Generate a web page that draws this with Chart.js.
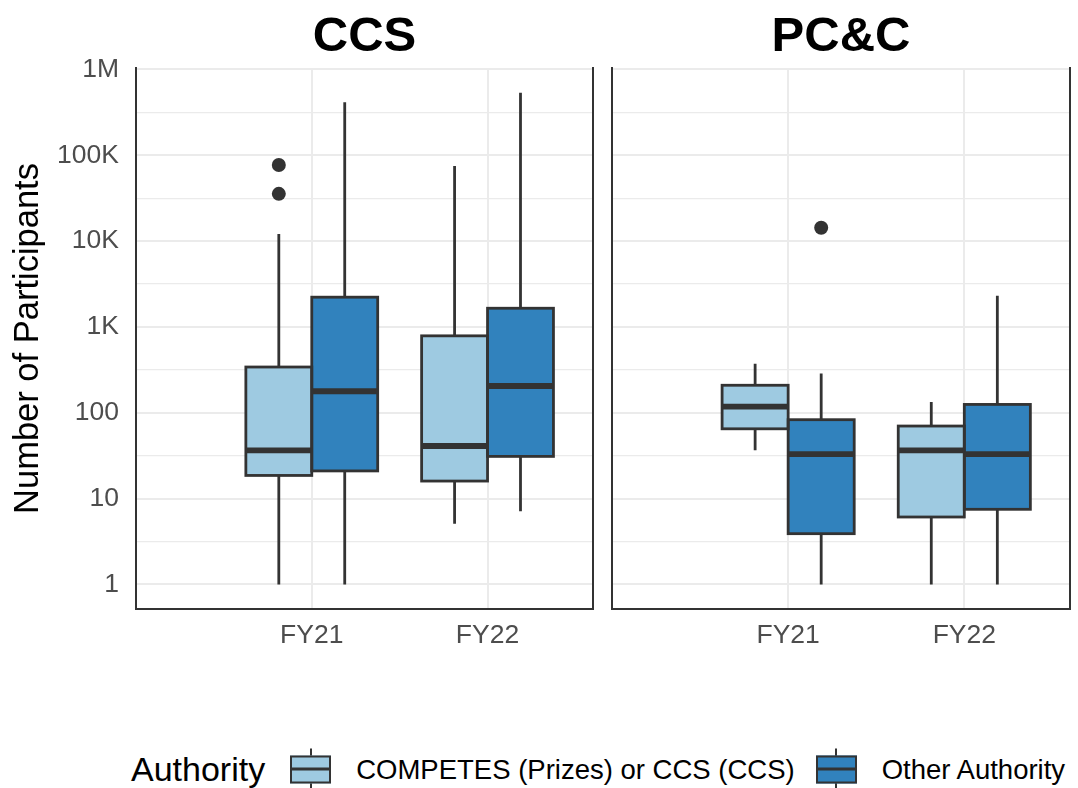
<!DOCTYPE html>
<html>
<head>
<meta charset="utf-8">
<title>Number of Participants by Authority</title>
<script src="https://cdn.jsdelivr.net/npm/chart.js@4.4.1/dist/chart.umd.min.js"></script>
<style>
  html, body { margin: 0; padding: 0; background: #ffffff; }
  body { width: 1078px; height: 788px; position: relative; overflow: hidden;
         font-family: "Liberation Sans", Arial, sans-serif; }
  #ccs { position: absolute; left: 0; top: 0; }
  #pcc { position: absolute; left: 603px; top: 0; }
  #legend { position: absolute; left: 131px; top: 769px; transform: translateY(-50%);
            display: flex; align-items: center; white-space: nowrap; }
  .lg-title { font-size: 34px; color: #000; margin-right: 25px; }
  .lg-key { position: relative; width: 37px; height: 24px; border: 2px solid #333333; }
  .lg-key::before { content: ""; position: absolute; left: 0; right: 0; top: 50%; height: 3px;
                    margin-top: -1.5px; background: #333333; }
  .lg-key::after { content: ""; position: absolute; left: 50%; margin-left: -1px; width: 2px;
                   top: -9px; bottom: -9px; z-index: -1; background: #333333; }
  .lg-label { font-size: 27.5px; color: #000; margin-left: 25px; margin-right: 21px; }
</style>
</head>
<body>
<canvas id="ccs" width="603" height="680"></canvas>
<canvas id="pcc" width="475" height="680"></canvas>
<div id="legend"><span class="lg-title">Authority</span></div>
<script>
// ---- data ---------------------------------------------------------------
const years = ['FY21', 'FY22'];
const seriesNames = ['COMPETES (Prizes) or CCS (CCS)', 'Other Authority'];
const seriesColors = ['#9ECAE1', '#3182BD'];

// per year: [lower whisker, Q1, median, Q3, upper whisker]
const ccsCompetes = [[1, 18.6, 36.5, 341, 12100], [5.1, 16, 41, 787, 75000]];
const ccsOther    = [[1, 21, 178, 2220, 414000], [7.1, 31, 205, 1650, 536000]];
const pccCompetes = [[36.5, 65, 118, 209, 372], [1, 6.1, 36.5, 70, 133]];
const pccOther    = [[1, 3.9, 33, 83, 287], [1, 7.5, 33, 125, 2300]];

// points beyond the whiskers, per year
const ccsCompetesOutliers = [[77000, 35500], []];
const ccsOtherOutliers    = [[], []];
const pccCompetesOutliers = [[], []];
const pccOtherOutliers    = [[14300], []];

const yTickValues = [1, 10, 100, 1000, 10000, 100000, 1000000];
const yTickLabels = ['1', '10', '100', '1K', '10K', '100K', '1M'];

// ---- styling ------------------------------------------------------------
const INK = '#333333';
const GRID = '#EBEBEB';
const TICK_TEXT = '#4D4D4D';
const DODGE = 0.75;                       // share of a category taken by the boxes
const Y_MIN = Math.pow(10, -0.2865);
const Y_MAX = Math.pow(10, 6.0165);

Chart.defaults.font.family = '"Liberation Sans", Arial, sans-serif';

// gridlines at every decade and half decade
const yGridValues = [];
yTickValues.forEach((v, i) => {
  yGridValues.push(v);
  if (i < yTickValues.length - 1) yGridValues.push(Math.sqrt(v * yTickValues[i + 1]));
});

// whiskers under the boxes, outlines and medians over them
const boxDecor = {
  id: 'boxDecor',
  beforeDatasetsDraw(chart) {
    const y = chart.scales.y, ctx = chart.ctx, area = chart.chartArea;
    ctx.save();
    ctx.beginPath();
    ctx.rect(area.left, area.top, area.right - area.left, area.bottom - area.top);
    ctx.clip();
    ctx.strokeStyle = INK;
    ctx.lineWidth = 2.8;
    chart.data.datasets.forEach((ds, d) => {
      if (!ds.stats) return;
      chart.getDatasetMeta(d).data.forEach((bar, i) => {
        const [lo, q1, , q3, hi] = ds.stats[i];
        ctx.beginPath();
        ctx.moveTo(bar.x, y.getPixelForValue(lo));
        ctx.lineTo(bar.x, y.getPixelForValue(q1));
        ctx.moveTo(bar.x, y.getPixelForValue(q3));
        ctx.lineTo(bar.x, y.getPixelForValue(hi));
        ctx.stroke();
      });
    });
    ctx.restore();
  },
  afterDatasetsDraw(chart) {
    const y = chart.scales.y, ctx = chart.ctx;
    ctx.save();
    ctx.strokeStyle = INK;
    chart.data.datasets.forEach((ds, d) => {
      if (!ds.stats) return;
      chart.getDatasetMeta(d).data.forEach((bar, i) => {
        const [, q1, med, q3] = ds.stats[i];
        const left = bar.x - bar.width / 2;
        const top = y.getPixelForValue(q3);
        const bottom = y.getPixelForValue(q1);
        ctx.lineWidth = 2.8;
        ctx.strokeRect(left, top, bar.width, bottom - top);
        ctx.lineWidth = 5.8;
        ctx.beginPath();
        ctx.moveTo(left, y.getPixelForValue(med));
        ctx.lineTo(left + bar.width, y.getPixelForValue(med));
        ctx.stroke();
      });
    });
    ctx.restore();
  }
};

// facet heading centred over the plotting area
const panelTitle = {
  id: 'panelTitle',
  afterDraw(chart, args, opts) {
    const { ctx, chartArea } = chart;
    ctx.save();
    ctx.font = 'bold 49px "Liberation Sans", Arial, sans-serif';
    ctx.fillStyle = '#000000';
    ctx.textAlign = 'center';
    ctx.textBaseline = 'alphabetic';
    ctx.fillText(opts.text, (chartArea.left + chartArea.right) / 2, opts.baseline);
    ctx.restore();
  }
};

function makePanel(canvasId, title, stats, outliers, withYAxis, padding) {
  const datasets = stats.map((st, s) => ({
    type: 'bar',
    label: seriesNames[s],
    backgroundColor: seriesColors[s],
    borderWidth: 0,
    categoryPercentage: DODGE,
    barPercentage: 1,
    stats: st,
    data: st.map((row, i) => ({ x: i + 1, y: [row[1], row[3]] }))
  }));
  const outlierPoints = [];
  outliers.forEach((perYear, s) => {
    perYear.forEach((vals, i) => {
      vals.forEach(v => outlierPoints.push({ x: i + 1 + (s - 0.5) * DODGE / stats.length, y: v }));
    });
  });
  datasets.push({
    type: 'scatter',
    label: 'outliers',
    data: outlierPoints,
    pointRadius: 7,
    pointBackgroundColor: INK,
    pointBorderWidth: 0
  });

  return new Chart(document.getElementById(canvasId), {
    type: 'bar',
    data: { datasets },
    plugins: [boxDecor, panelTitle],
    options: {
      responsive: false,
      animation: false,
      events: [],
      layout: { padding },
      plugins: {
        legend: { display: false },
        tooltip: { enabled: false },
        panelTitle: { text: title, baseline: 51 }
      },
      scales: {
        x: {
          type: 'linear',
          offset: false,
          min: 0,
          max: 2.6,
          afterBuildTicks: s => { s.ticks = years.map((_, i) => ({ value: i + 1 })); },
          afterFit: s => { s.height = 60; },
          ticks: {
            callback: v => years[v - 1],
            color: TICK_TEXT,
            font: { size: 26.5 },
            padding: 11,
            autoSkip: false,
            maxRotation: 0
          },
          grid: { color: GRID, lineWidth: 2, drawTicks: false, offset: false },
          border: { display: true, color: INK, width: 2 }
        },
        y: {
          type: 'logarithmic',
          min: Y_MIN,
          max: Y_MAX,
          afterBuildTicks: s => { s.ticks = yGridValues.map(v => ({ value: v })); },
          afterFit: s => { s.width = withYAxis ? 136 : 0; },
          ticks: {
            display: withYAxis,
            callback: v => { const k = yTickValues.indexOf(v); return k >= 0 ? yTickLabels[k] : ''; },
            color: TICK_TEXT,
            font: { size: 26.5 },
            padding: 17,
            autoSkip: false
          },
          grid: {
            color: GRID,
            drawTicks: false,
            lineWidth: c => (c.tick && yTickValues.indexOf(c.tick.value) < 0) ? 1.3 : 2
          },
          border: { display: true, color: INK, width: 2 },
          title: {
            display: withYAxis,
            text: 'Number of Participants',
            color: '#000000',
            font: { size: 34.5 },
            padding: { top: 8, bottom: 0 }
          }
        },
        yRight: {
          type: 'logarithmic',
          position: 'right',
          min: Y_MIN,
          max: Y_MAX,
          afterFit: s => { s.width = 0; },
          ticks: { display: false },
          grid: { display: false },
          border: { display: true, color: INK, width: 2 }
        }
      }
    }
  });
}

makePanel('ccs', 'CCS', [ccsCompetes, ccsOther], [ccsCompetesOutliers, ccsOtherOutliers], true,
          { top: 68, right: 10, bottom: 11, left: 0 });
makePanel('pcc', 'PC&C', [pccCompetes, pccOther], [pccCompetesOutliers, pccOtherOutliers], false,
          { top: 68, right: 8, bottom: 11, left: 9 });

// legend: one key per authority
const legend = document.getElementById('legend');
seriesNames.forEach((name, s) => {
  const key = document.createElement('span');
  key.className = 'lg-key';
  key.style.background = seriesColors[s];
  legend.appendChild(key);
  const label = document.createElement('span');
  label.className = 'lg-label';
  label.textContent = name;
  legend.appendChild(label);
});
</script>
</body>
</html>
